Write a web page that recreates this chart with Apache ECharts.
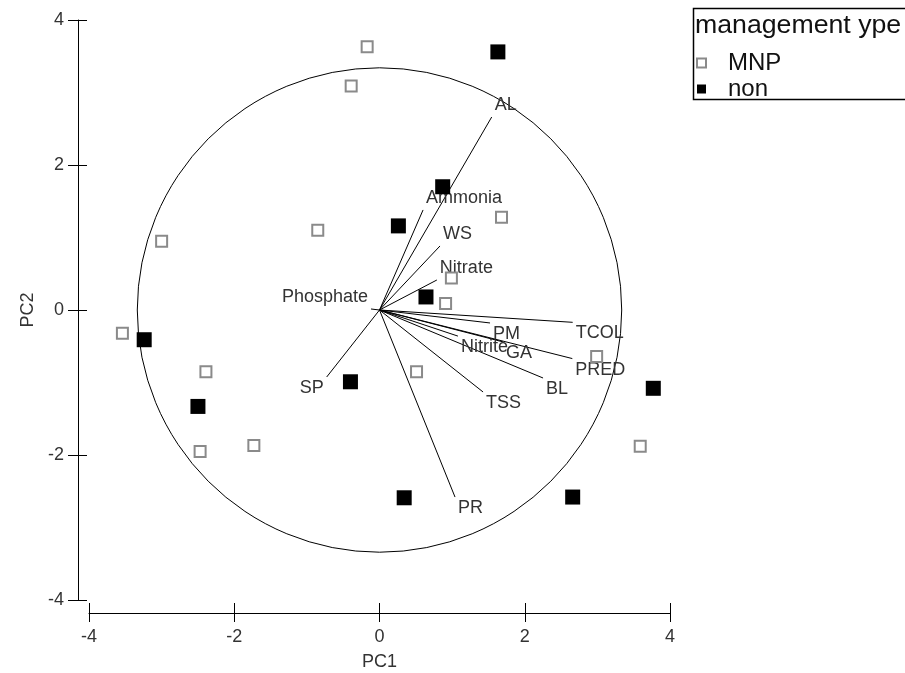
<!DOCTYPE html>
<html>
<head>
<meta charset="utf-8">
<script src="https://cdn.jsdelivr.net/npm/echarts@6/dist/echarts.min.js"></script>
<style>
  html, body { margin: 0; padding: 0; background: #fff; }
  #chart { width: 905px; height: 673px; }
</style>
</head>
<body>
<div id="chart"></div>
<script>
// PCA site scores, split by management type
const mnpScores = [
  [-0.17, 3.63], [-0.39, 3.09], [-3.00, 0.95], [-0.85, 1.10], [1.68, 1.28],
  [0.99, 0.44], [0.91, 0.09], [-3.54, -0.32], [-2.39, -0.85], [0.51, -0.85],
  [2.99, -0.64], [-1.73, -1.87], [-2.47, -1.95], [3.59, -1.88]
];
const nonScores = [
  [1.63, 3.56], [0.87, 1.70], [0.26, 1.16], [0.64, 0.18], [-3.24, -0.41],
  [-2.50, -1.33], [-0.40, -0.99], [0.34, -2.59], [2.66, -2.58], [3.77, -1.08]
];

// variable loadings (arrow tips)
const loadingNames = ['AL', 'Ammonia', 'WS', 'Nitrate', 'Phosphate', 'SP', 'PR',
  'TSS', 'BL', 'PRED', 'TCOL', 'PM', 'GA', 'Nitrite'];
const loadingX = [1.545, 0.60, 0.833, 0.79, -0.117, -0.727, 1.04,
  1.426, 2.252, 2.655, 2.66, 1.522, 1.70, 1.08];
const loadingY = [2.662, 1.38, 0.883, 0.414, 0.014, -0.924, -2.58,
  -1.131, -0.938, -0.67, -0.17, -0.179, -0.44, -0.36];

// equilibrium circle radius
const circleRadius = 3.335;

const seriesNames = ['MNP', 'non'];
const legendTitle = 'management ype';
const xName = 'PC1';
const yName = 'PC2';
const axisMin = -4, axisMax = 4, axisStep = 2;

const FONT = '"Liberation Sans", Arial, sans-serif';
const TEXT = '#333';
const CLEAR = 'rgba(0,0,0,0)';

const chart = echarts.init(document.getElementById('chart'), null, { renderer: 'canvas' });

const loadingData = loadingNames.map((n, i) => [loadingX[i], loadingY[i], n]);

const plotRect = { left: 89, right: 235, top: 20, bottom: 73, outerBoundsMode: 'none' };

function baseX(extra) {
  return Object.assign({
    type: 'value', min: axisMin, max: axisMax, interval: axisStep,
    position: 'bottom', splitLine: { show: false }
  }, extra);
}
function baseY(extra) {
  return Object.assign({
    type: 'value', min: axisMin, max: axisMax, interval: axisStep,
    position: 'left', splitLine: { show: false }
  }, extra);
}

const option = {
  backgroundColor: '#fff',
  animation: false,
  // the second grid overlays the first; its axes draw the inner half of each crossing tick
  grid: [Object.assign({}, plotRect), Object.assign({}, plotRect)],
  xAxis: [
    baseX({
      gridIndex: 0, offset: 13,
      name: xName, nameLocation: 'middle', nameGap: 40,
      nameTextStyle: { fontFamily: FONT, fontSize: 18, color: TEXT },
      axisLine: { show: true, onZero: false, lineStyle: { color: '#000', width: 1 } },
      axisTick: { show: true, length: 9, lineStyle: { color: '#000' } },
      axisLabel: { fontFamily: FONT, fontSize: 18, color: TEXT, margin: 15 }
    }),
    baseX({
      gridIndex: 1, offset: 3,
      axisLine: { show: true, onZero: false, lineStyle: { color: CLEAR } },
      axisTick: { show: true, length: 10, lineStyle: { color: '#000' } },
      axisLabel: { show: false }
    })
  ],
  yAxis: [
    baseY({
      gridIndex: 0, offset: 11,
      name: yName, nameLocation: 'middle', nameGap: 36, nameRotate: 90,
      nameTextStyle: { fontFamily: FONT, fontSize: 18, color: TEXT },
      axisLine: { show: true, onZero: false, lineStyle: { color: '#000', width: 1 } },
      axisTick: { show: true, length: 10, lineStyle: { color: '#000' } },
      axisLabel: { fontFamily: FONT, fontSize: 18, color: TEXT, margin: 14 }
    }),
    baseY({
      gridIndex: 1, offset: 2,
      axisLine: { show: true, onZero: false, lineStyle: { color: CLEAR } },
      axisTick: { show: true, length: 9, lineStyle: { color: '#000' } },
      axisLabel: { show: false }
    })
  ],
  legend: {
    orient: 'vertical', left: 696, top: 50, padding: 0,
    itemWidth: 9, itemHeight: 9, itemGap: 0,
    textStyle: {
      fontFamily: FONT, fontSize: 24, color: '#111',
      lineHeight: 26, padding: [0, 0, 0, 17]
    },
    data: seriesNames
  },
  graphic: [
    {
      type: 'rect', left: 691, top: 6, z: 10,
      shape: { width: 240, height: 91 },
      style: { fill: 'none', stroke: '#000', lineWidth: 1.5 }
    },
    {
      type: 'text', x: 695, y: 26, z: 11,
      style: {
        text: legendTitle, fontFamily: FONT, fontSize: 26.7, fill: '#111',
        verticalAlign: 'middle'
      }
    }
  ],
  series: [
    {
      type: 'custom', name: 'circle', silent: true,
      data: [[0, 0]],
      renderItem: function (params, api) {
        const c = api.coord([0, 0]);
        const e = api.coord([circleRadius, 0]);
        return {
          type: 'circle',
          shape: { cx: c[0], cy: c[1], r: e[0] - c[0] },
          style: { fill: 'none', stroke: '#000', lineWidth: 1 }
        };
      }
    },
    {
      type: 'custom', name: 'loadings', silent: true,
      data: loadingData,
      renderItem: function (params, api) {
        const o = api.coord([0, 0]);
        const vx = api.value(0), vy = api.value(1);
        const p = api.coord([vx, vy]);
        const right = vx >= 0, up = vy >= 0;
        return {
          type: 'group',
          children: [
            {
              type: 'line',
              shape: { x1: o[0], y1: o[1], x2: p[0], y2: p[1] },
              style: { stroke: '#000', lineWidth: 1 }
            },
            {
              type: 'text',
              x: p[0] + (right ? 3 : -3),
              y: p[1] + (up ? -12 : 11),
              style: {
                text: loadingNames[params.dataIndex],
                fontFamily: FONT, fontSize: 18, fill: TEXT,
                align: right ? 'left' : 'right', verticalAlign: 'middle'
              }
            }
          ]
        };
      }
    },
    {
      type: 'scatter', name: seriesNames[0],
      data: mnpScores, symbol: 'rect', symbolSize: 11,
      itemStyle: { color: 'rgba(255,255,255,0)', borderColor: '#8a8a8a', borderWidth: 2, opacity: 1 },
      z: 5
    },
    {
      type: 'scatter', name: seriesNames[1],
      data: nonScores, symbol: 'rect', symbolSize: 15,
      itemStyle: { color: '#000', opacity: 1 },
      z: 5
    },
    {
      // keeps the overlay grid's axes in use; draws nothing
      type: 'scatter', name: 'tickAxes', xAxisIndex: 1, yAxisIndex: 1,
      data: [[0, 0]], symbolSize: 0, silent: true,
      itemStyle: { color: CLEAR }
    }
  ]
};

chart.setOption(option);
</script>
</body>
</html>
